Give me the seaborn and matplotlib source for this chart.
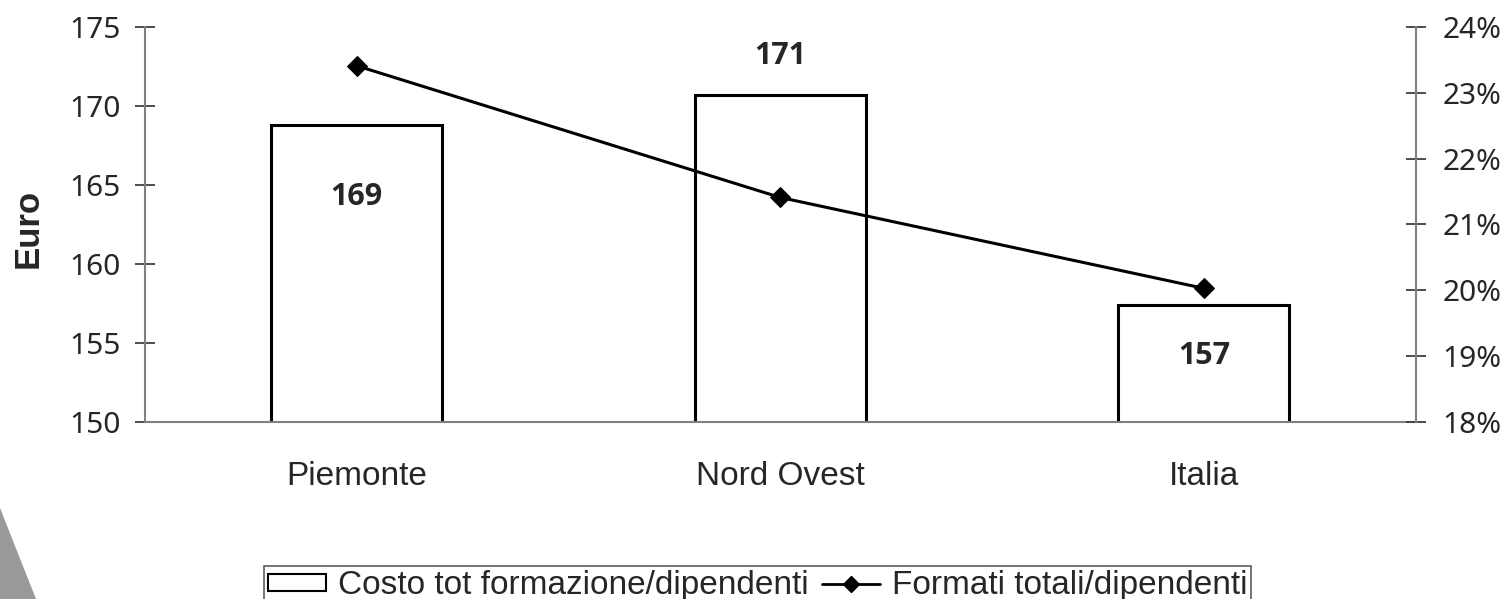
import numpy as np
import pandas as pd
import seaborn as sns
import matplotlib.pyplot as plt
from matplotlib.patches import Polygon, Patch
from matplotlib.lines import Line2D
from matplotlib.ticker import FixedLocator, PercentFormatter, NullFormatter

# dati
categorie = ['Piemonte', 'Nord Ovest', 'Italia']
costo = [168.8, 170.7, 157.4]
etichette_costo = ['169', '171', '157']
formati = [23.41, 21.41, 20.03]  # percentuali
serie_barre = 'Costo tot formazione/dipendenti'
serie_linea = 'Formati totali/dipendenti'

sns.set_style('white')
plt.rcParams['font.family'] = ['Liberation Sans', 'DejaVu Sans']

df = pd.DataFrame({'regione': categorie, 'costo': costo, 'formati': formati})
df['pos'] = np.arange(len(df))

fig = plt.figure(figsize=(15.07, 5.99), dpi=100)
ax = fig.add_axes([0.0962, 0.2955, 0.8432, 0.6595])

sns.barplot(data=df, x='pos', y='costo', color='white', saturation=1,
            edgecolor='black', linewidth=2.2, width=0.404, ax=ax)
ax.set_ylim(150, 175)
ax.set_xlim(-0.5, len(categorie) - 0.5)

ax2 = ax.twinx()
sns.lineplot(data=df, x='pos', y='formati', ax=ax2, color='black',
             marker='D', markersize=10, markeredgecolor='black',
             linewidth=2.2, sort=False)
ax2.set_ylim(18, 24)
ax2.set_xlim(-0.5, len(categorie) - 0.5)

# etichette dei valori
offsets = [-52, 28, -37]
for i, (v, lab) in enumerate(zip(costo, etichette_costo)):
    ax.annotate(lab, xy=(i, v), xytext=(0, offsets[i]), textcoords='offset points',
                ha='center', va='center', fontsize=22, fontweight='bold',
                family=['Open Sans', 'DejaVu Sans'])

# assi
grigio = '#808080'
for s in ['top', 'right']:
    ax.spines[s].set_visible(False)
for s in ['top', 'left', 'bottom']:
    ax2.spines[s].set_visible(False)
ax.spines['left'].set_color(grigio)
ax.spines['bottom'].set_color(grigio)
ax2.spines['right'].set_color(grigio)
for s in [ax.spines['left'], ax.spines['bottom'], ax2.spines['right']]:
    s.set_linewidth(1.5)

ax.set_yticks(range(150, 176, 5))
ax.tick_params(axis='y', direction='inout', length=15, width=1.3, color='#404040',
               labelsize=21.5, pad=10)
ax2.set_yticks(range(18, 25))
ax2.yaxis.set_major_formatter(PercentFormatter(decimals=0))
ax2.tick_params(axis='y', direction='inout', length=15, width=1.3, color='#404040',
                labelsize=21.5, pad=12)
for lab in ax.get_yticklabels() + ax2.get_yticklabels():
    lab.set_family(['Noto Sans', 'DejaVu Sans'])

ax.xaxis.set_major_locator(FixedLocator(np.arange(len(categorie) + 1) - 0.5))
ax.xaxis.set_major_formatter(NullFormatter())
ax.xaxis.set_minor_locator(FixedLocator(np.arange(len(categorie))))
ax.set_xticklabels(categorie, minor=True)
ax.tick_params(axis='x', which='major', direction='inout', length=15, width=1.3, color='black')
ax.tick_params(axis='x', which='minor', length=0, labelsize=24, pad=28)
ax2.tick_params(axis='x', which='both', length=0, labelbottom=False)

ax.set_xlabel('')
ax2.set_xlabel('')
ax2.set_ylabel('')
ax.set_ylabel('Euro', fontsize=25, fontweight='bold')
ax.yaxis.set_label_coords(-0.079, 0.491)

# legenda
handles = [Patch(facecolor='white', edgecolor='black', linewidth=1.5),
           Line2D([], [], color='black', marker='D', markersize=8, linewidth=2)]
leg = fig.legend(handles, [serie_barre, serie_linea], loc='upper center',
                 bbox_to_anchor=(0.5027, 1 - 566 / 599), ncol=2, fontsize=24,
                 frameon=True, fancybox=False, borderaxespad=0, borderpad=0.12,
                 handlelength=1.75, handleheight=0.4, handletextpad=0.35,
                 columnspacing=0.4)
leg.get_frame().set_edgecolor('#333333')
leg.get_frame().set_linewidth(1.2)

# forma grigia in basso a sinistra
fig.patches.append(Polygon([[0, 1 - 508 / 599], [36 / 1507, 0], [0, 0]],
                           closed=True, transform=fig.transFigure,
                           facecolor='#999999', edgecolor='none'))

fig.savefig('out.png', dpi=100)
